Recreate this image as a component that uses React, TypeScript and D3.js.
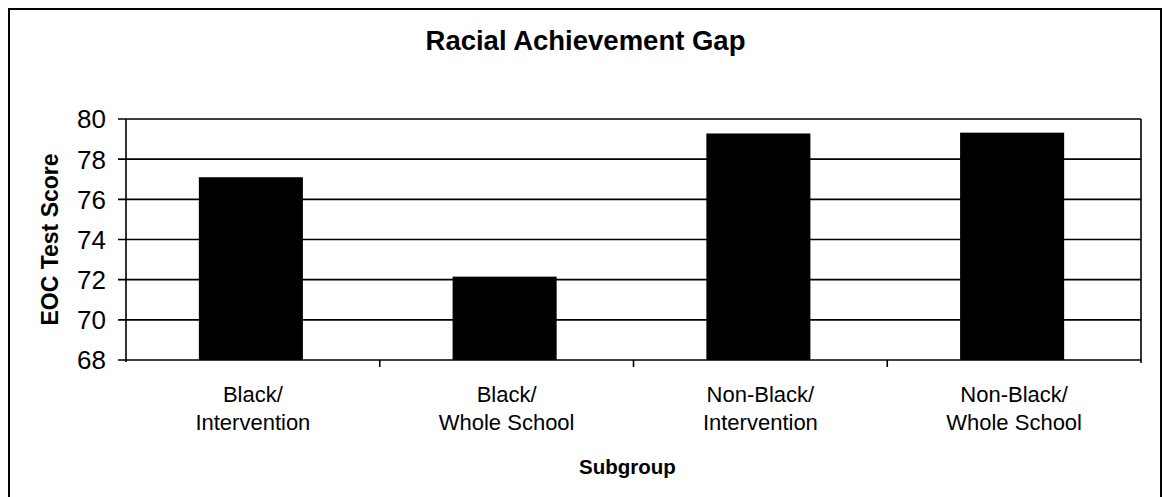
import React from "react";
import * as d3 from "d3";

const categories = [
  ["Black/", "Intervention"],
  ["Black/", "Whole School"],
  ["Non-Black/", "Intervention"],
  ["Non-Black/", "Whole School"],
];
const values = [77.1, 72.15, 79.28, 79.32];
const yTicks = [68, 70, 72, 74, 76, 78, 80];
const title = "Racial Achievement Gap";
const yTitle = "EOC Test Score";
const xTitle = "Subgroup";

const W = 1164;
const H = 497;
const plot = { left: 126, right: 1141, top: 119, bottom: 360 };
const FONT = "'Liberation Sans', Arial, Helvetica, sans-serif";

export default function App() {
  const keys = categories.map((_, i) => String(i));
  const x = d3.scaleBand<string>().domain(keys).range([plot.left, plot.right]).padding(0);
  const y = d3.scaleLinear().domain([68, 80]).range([plot.bottom, plot.top]);
  const bw = x.bandwidth() * 0.41;
  const midX = (10 + 1161) / 2;

  return (
    <svg
      width={W}
      height={H}
      style={{ position: "absolute", left: 0, top: 0, background: "#fff" }}
      fontFamily={FONT}
    >
      <rect x={0} y={0} width={W} height={H} fill="#fff" />
      {/* outer frame */}
      <path d={`M9,${H + 5} V9 H1161 V${H + 5}`} fill="none" stroke="#000" strokeWidth={2} />
      <text x={midX} y={50} textAnchor="middle" fontSize={27.5} fontWeight="bold">
        {title}
      </text>

      {/* gridlines */}
      {yTicks.map((t) => (
        <line key={"g" + t} x1={plot.left - 8} x2={plot.right} y1={y(t)} y2={y(t)} stroke="#000" strokeWidth={1.6} />
      ))}
      {/* axes */}
      <line x1={plot.left} x2={plot.left} y1={plot.top} y2={plot.bottom + 2} stroke="#000" strokeWidth={1.6} />
      <line x1={plot.right} x2={plot.right} y1={plot.top} y2={plot.bottom + 3} stroke="#000" strokeWidth={1.6} />
      {keys.slice(1).map((k) => (
        <line key={"xt" + k} x1={x(k)!} x2={x(k)!} y1={plot.bottom} y2={plot.bottom + 7} stroke="#000" strokeWidth={1.6} />
      ))}

      {/* bars */}
      {values.map((v, i) => {
        const cx = x(String(i))! + x.bandwidth() / 2 - 2;
        return (
          <rect key={"b" + i} x={cx - bw / 2} y={y(v)} width={bw} height={y(68) - y(v)} fill="#000" />
        );
      })}

      {/* y tick labels */}
      {yTicks.map((t) => (
        <text key={"yl" + t} x={106} y={y(t)} dy="0.36em" textAnchor="end" fontSize={26}>
          {t}
        </text>
      ))}
      <text
        transform={`translate(58,${(plot.top + plot.bottom) / 2}) rotate(-90)`}
        textAnchor="middle"
        fontSize={23}
        fontWeight="bold"
      >
        {yTitle}
      </text>

      {/* category labels */}
      {categories.map((lines, i) => {
        const cx = x(String(i))! + x.bandwidth() / 2;
        return (
          <text key={"c" + i} textAnchor="middle" fontSize={22}>
            <tspan x={cx} y={402}>{lines[0]}</tspan>
            <tspan x={cx} y={430}>{lines[1]}</tspan>
          </text>
        );
      })}
      <text x={(plot.left + plot.right) / 2 - 6} y={474} textAnchor="middle" fontSize={20.5} fontWeight="bold">
        {xTitle}
      </text>
    </svg>
  );
}
